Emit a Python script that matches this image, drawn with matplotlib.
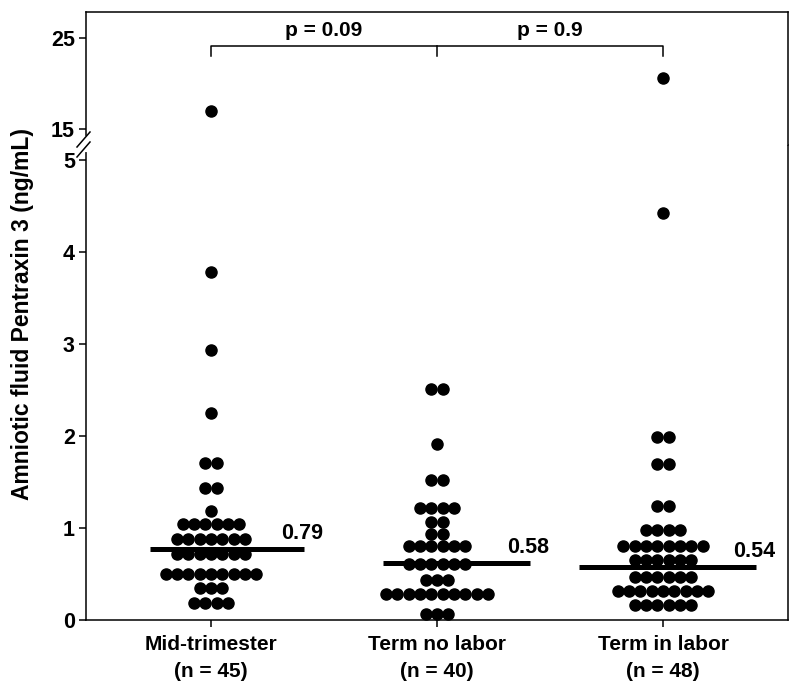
import numpy as np
import matplotlib
matplotlib.use("Agg")
import matplotlib.pyplot as plt
from matplotlib import font_manager

plt.rcParams['font.family'] = ['Liberation Sans', 'DejaVu Sans']
plt.rcParams['font.weight'] = 'bold'

# data (ng/mL)
groups = ["Mid-trimester", "Term no labor", "Term in labor"]
group_n = [45, 40, 48]
mid_trimester = [17.0, 3.78, 2.93, 2.25] + [1.71] * 2 + [1.43] * 2 + [1.18] + [1.04] * 6 \
    + [0.88] * 7 + [0.72] * 7 + [0.50] * 9 + [0.35] * 3 + [0.19] * 4
term_no_labor = [2.51] * 2 + [1.91] + [1.52] * 2 + [1.22] * 4 + [1.07] * 2 + [0.93] * 2 \
    + [0.80] * 6 + [0.61] * 6 + [0.44] * 3 + [0.28] * 10 + [0.07] * 3
term_in_labor = [20.6, 4.42] + [1.99] * 2 + [1.70] * 2 + [1.24] * 2 + [0.98] * 4 \
    + [0.80] * 8 + [0.65] * 6 + [0.47] * 6 + [0.31] * 9 + [0.16] * 6
series = [mid_trimester, term_no_labor, term_in_labor]
median_labels = ["0.79", "0.58", "0.54"]
median_line_y = [0.77, 0.62, 0.58]
p_values = ["p = 0.09", "p = 0.9"]

# layout
line_left = [-0.27, -0.24, -0.37]
line_right = 0.41
dot_step = 0.05

# the x labels in the original are a narrow bold face; use one if present
installed = {f.name for f in font_manager.fontManager.ttflist}
narrow = next((n for n in ['Liberation Sans Narrow', 'Arial Narrow', 'Nimbus Sans Narrow']
               if n in installed), None)
xlab_family = [narrow, 'Liberation Sans'] if narrow else ['Liberation Sans']
xlab_size = 16 if narrow else 15

fig = plt.figure(figsize=(8, 6.87), dpi=100, facecolor="white")
ax_lo = fig.add_axes([0.1075, 0.0975, 0.8775, 0.6915])
ax_hi = fig.add_axes([0.1075, 0.789, 0.8775, 0.1935])

for ax in (ax_lo, ax_hi):
    ax.set_xlim(-0.553, 2.553)
    for s in ax.spines.values():
        s.set_linewidth(1.1)
    ax.tick_params(axis='y', direction='out', length=5, width=1.1, labelsize=15.5, pad=3)
ax_lo.set_ylim(0, 5.163)
ax_hi.set_ylim(13.24, 27.86)
ax_lo.spines['top'].set_visible(False)
ax_hi.spines['bottom'].set_visible(False)
ax_hi.set_xticks([])
ax_lo.set_yticks([0, 1, 2, 3, 4, 5])
ax_hi.set_yticks([15, 25])

# dots: rows of equal value spread sideways
for i, vals in enumerate(series):
    xs, ys = [], []
    for v in sorted(set(vals)):
        k = vals.count(v)
        for j in range(k):
            xs.append(i + (j - (k - 1) / 2) * dot_step)
            ys.append(v)
    for ax in (ax_lo, ax_hi):
        ax.plot(xs, ys, 'o', color='black', markersize=8.0, linestyle='none')

# median lines and labels
for i in range(3):
    ax_lo.plot([i + line_left[i], i + line_right], [median_line_y[i]] * 2,
               color='black', linewidth=3.6, solid_capstyle='butt')
    ax_lo.text(i + 0.31, median_line_y[i] + 0.055, median_labels[i],
               fontsize=15.5, fontweight='bold', ha='left', va='bottom')

# x labels
ax_lo.set_xticks([0, 1, 2])
ax_lo.set_xticklabels(["%s\n(n = %d)" % (g, n) for g, n in zip(groups, group_n)],
                      family=xlab_family, fontsize=xlab_size, fontweight='bold',
                      linespacing=1.5)
ax_lo.tick_params(axis='x', direction='out', length=5, width=1.1, pad=6)

# comparison brackets
ax_hi.plot([0, 0, 2, 2], [23.0, 24.1, 24.1, 23.0], color='black', linewidth=1.1)
ax_hi.plot([1, 1], [23.0, 24.1], color='black', linewidth=1.1)
ax_hi.text(0.5, 24.8, p_values[0], ha='center', va='bottom', fontsize=15, fontweight='bold')
ax_hi.text(1.5, 24.8, p_values[1], ha='center', va='bottom', fontsize=15, fontweight='bold')

# axis break marks on the left spine
x0 = 86 / 800
fig.add_artist(plt.Line2D([x0, x0], [1 - 150 / 687, 1 - 138 / 687], color='white',
                          linewidth=3, transform=fig.transFigure))
for yb in (147, 157):
    fig.add_artist(plt.Line2D([77 / 800, 90 / 800], [1 - yb / 687, 1 - (yb - 15) / 687],
                              color='black', linewidth=1.1, transform=fig.transFigure))

fig.text(23 / 800, 1 - 314 / 687, "Amniotic fluid Pentraxin 3 (ng/mL)", rotation=90,
         ha='center', va='center', fontsize=16.5, fontweight='bold')

fig.savefig("out.png", dpi=100, facecolor="white")
